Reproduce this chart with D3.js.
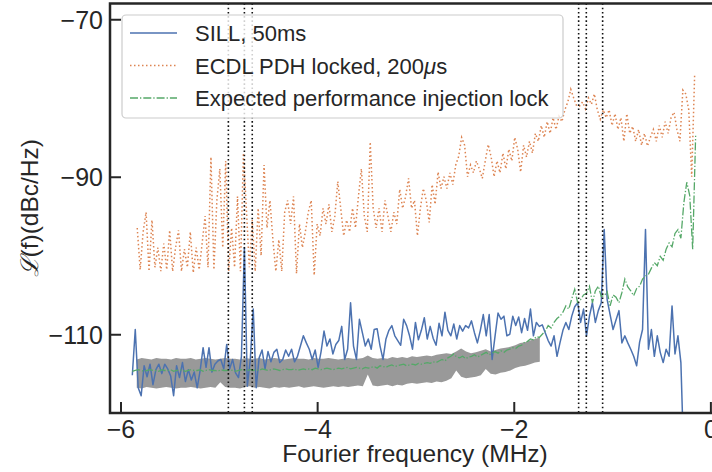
<!DOCTYPE html>
<html>
<head>
<meta charset="utf-8">
<script src="https://cdn.jsdelivr.net/npm/d3@7"></script>
<style>
html,body{margin:0;padding:0;background:#fff;}
svg{display:block;font-family:"Liberation Sans",Arial,"DejaVu Sans",sans-serif;}
</style>
</head>
<body>
<svg id="chart" width="712" height="472"></svg>
<script>
// ---------------- data ----------------
const xTicks = [-6, -4, -2, 0];
const yTicks = [-110, -90, -70];
const xTickLabels = ["\u22126", "\u22124", "\u22122", "0"];
const yTickLabels = ["\u2212110", "\u221290", "\u221270"];
const seriesNames = ["SILL, 50ms", "ECDL PDH locked, 200\u03bcs", "Expected performance injection lock"];
const markerFreqs = [-4.903, -4.74, -4.66, -1.34, -1.262, -1.096];

// SILL (blue), frequency grid: start -5.88 MHz, step 0.03 MHz
const sillStart = -5.88, sillStep = 0.03;
const sill = [
-115.2,-109.4,-116.8,-117.8,-114,-115.4,-113.8,-116.4,-114.5,-113.8,
-115,-113.8,-114.4,-115.3,-117.8,-114,-115.5,-113.6,-116,-114.5,
-115.8,-114.8,-116.8,-114.6,-111.7,-114.2,-111.7,-114.8,-113.8,-113.4,
-113.2,-114.4,-111.3,-114.4,-113.2,-114.9,-115.5,-112.8,-99,-116.6,
-113.2,-106.8,-116.8,-113,-112,-114.4,-112.2,-113.5,-112.3,-111.9,
-113.6,-113.2,-112,-112.8,-111.9,-113.5,-112.8,-111.5,-110.2,-111.1,
-111.9,-113.2,-112,-114.2,-112.2,-109.6,-111.5,-110.6,-112.5,-111.3,
-110.8,-109,-113.2,-111.9,-106,-111.5,-113.2,-108.1,-109.8,-111.5,
-110.6,-111.9,-109.4,-109.3,-111.5,-113.2,-110.6,-109.5,-108.9,-110.2,
-110.8,-111.4,-108.1,-108.9,-110.2,-111.9,-108.5,-110.7,-109.5,-107.9,
-110.6,-109,-110.5,-111.4,-108.6,-110.2,-107.2,-109.5,-110.2,-108.7,
-110.6,-108.9,-109.6,-108.9,-109.2,-108.3,-109.8,-111.1,-109.5,-107.5,
-110.2,-107.5,-113.2,-110.2,-107.3,-108.1,-107.7,-110.2,-110,-107.7,
-108.9,-107.8,-109.8,-108,-109.5,-106.8,-110.2,-108.5,-109,-108.8,
-109.8,-110.8,-111.5,-110.2,-112.8,-111.1,-109.5,-108.5,-109.4,-107.7,
-106.5,-106,-108.5,-106.8,-110.2,-107.7,-106,-108.5,-107,-106,
-96.7,-105.6,-107.5,-109.4,-108.2,-107,-111.1,-110.2,-111.1,-111.9,
-112.8,-114,-111,-109.4,-96.7,-111.9,-109.4,-112.8,-110.2,-112.3,
-113.6,-111.9,-112.8,-106.4,-112.5,-110.2,-113.6,-126
];

// ECDL PDH locked (orange), start -5.83 MHz, step 0.03 MHz
const ecdlStart = -5.83, ecdlStep = 0.03;
const ecdl = [
-96.5,-101.8,-97,-94.5,-102,-95.5,-101.5,-99,-102,-98.5,
-101.8,-96.8,-102,-99,-96.8,-102,-99.2,-101.5,-97,-102.2,
-99,-101.8,-98.5,-95,-101.5,-87.5,-101.8,-93,-89,-99,
-88,-102,-96.5,-101.5,-92.5,-102,-87,-94,-101.5,-95.5,
-102,-94,-100,-88.5,-96.5,-93,-98,-102,-98,-102,
-94.5,-93,-96,-92.5,-102.3,-96,-99,-97,-94.5,-93,
-102.5,-96,-97.5,-94,-96,-93.5,-97,-95,-90.6,-94,
-97.5,-95.5,-97,-94,-96.5,-92.5,-89,-95,-97,-85.6,
-94,-96.5,-94,-97,-93,-95,-97,-94.5,-96,-91.6,
-94,-92.5,-90.2,-94,-93,-97.5,-94,-91.5,-93,-95.8,
-91,-93.5,-89.4,-91.5,-90,-91.5,-89.5,-91,-88.5,-87.4,
-85,-86,-90,-88.5,-89.5,-88,-89,-90.2,-88,-85.9,
-87.5,-90,-88,-89.5,-87,-89,-86.5,-88,-85,-86.5,
-89.4,-86,-87.5,-85.5,-87,-84.5,-85.5,-83.5,-85,-83,
-84.5,-82.5,-84,-82.3,-83,-81.5,-80.5,-78.9,-80,-81,
-81,-80.5,-81.4,-80,-80.8,-79.5,-81.5,-82.7,-81.5,-82.5,
-81.5,-83.5,-82,-84,-82.5,-85.5,-82,-84.5,-83.6,-85.5,
-84,-86,-84.5,-86.1,-85,-84,-85.5,-83.5,-85,-83,
-84.5,-82.5,-81.8,-84,-85.5,-79,-79.5,-81.5,-90,-77
];

// Expected performance (green), start -5.88 MHz, step 0.03 MHz
const expStart = -5.88, expStep = 0.03;
const expected = [
-114.7,-114.6,-114.5,-114.6,-114.7,-114.6,-114.5,-114.6,-114.6,-114.7,
-114.5,-114.6,-114.6,-114.5,-114.7,-114.6,-114.5,-114.6,-114.7,-114.6,
-114.5,-114.6,-114.6,-114.5,-114.7,-114.6,-114.5,-114.6,-114.6,-114.7,
-114.5,-114.6,-114.6,-114.5,-114.6,-114.7,-114.6,-114.5,-114.6,-114.6,
-114.5,-114.6,-114.5,-114.6,-114.4,-114.5,-114.6,-114.5,-114.4,-114.5,
-114.6,-114.5,-114.4,-114.5,-114.5,-114.4,-114.6,-114.5,-114.4,-114.5,
-114.4,-114.5,-114.3,-114.4,-114.5,-114.4,-114.3,-114.4,-114.5,-114.4,
-114.3,-114.4,-114.3,-114.2,-114.4,-114.3,-114.2,-114.3,-114.4,-114.2,
-114.3,-114.2,-114.1,-114.3,-114.0,-114.1,-114.2,-114.0,-113.9,-114.1,
-114.0,-113.9,-113.8,-114.0,-113.9,-113.8,-113.9,-113.7,-113.8,-113.7,
-113.6,-113.7,-113.5,-113.6,-113.4,-113.2,-113.4,-113.0,-112.8,-112.5,
-112.9,-113.0,-112.8,-113.1,-112.9,-112.8,-112.6,-112.9,-112.7,-112.5,
-112.3,-112.6,-112.4,-112.2,-112.4,-112.1,-112.3,-112.0,-111.9,-111.7,
-111.8,-111.5,-111.4,-111.0,-110.9,-110.6,-110.7,-110.3,-110.4,-110.0,
-109.6,-108.9,-109.2,-108.5,-108.0,-107.7,-107.2,-106.4,-106.8,-105.5,
-104.3,-106.0,-105.6,-105.0,-104.8,-103.9,-106.0,-104.5,-103.9,-105.2,
-105.1,-104.6,-106.4,-105.0,-105.3,-106.0,-104.7,-103.0,-104.0,-104.5,
-105.1,-104.2,-103.9,-103.0,-102.6,-102.4,-101.6,-100.9,-101.3,-100.1,
-100.6,-99.2,-98.4,-98.9,-97.2,-96.7,-97.8,-93.3,-90.7,-92.4,
-99.2,-84.8
];

// Gray band (spread), start -5.835 MHz, step 0.05 MHz
const bandStart = -5.835, bandStep = 0.05;
const bandUpper = [
-113.2,-113.0,-113.1,-113.2,-113.0,-113.1,-113.1,-113.2,-113.0,-113.1,
-113.1,-113.0,-113.2,-113.1,-113.0,-113.1,-113.2,-113.1,-113.0,-113.1,
-113.1,-113.2,-113.0,-113.1,-113.1,-113.0,-113.2,-113.1,-113.0,-113.1,
-113.2,-113.1,-113.0,-113.1,-113.1,-113.2,-113.0,-113.1,-113.1,-113.0,
-113.1,-113.2,-113.1,-113.0,-113.1,-113.1,-113.0,-112.7,-113.0,-113.1,
-113.0,-113.1,-112.9,-113.0,-112.9,-113.0,-112.8,-112.9,-112.8,-112.7,
-112.8,-112.6,-112.5,-112.4,-112.5,-112.2,-111.8,-112.2,-112.4,-112.3,
-112.1,-111.9,-112.2,-112.0,-111.8,-111.7,-111.6,-111.4,-111.1,-111.0,
-110.8,-110.6,-110.4
];
const bandLower = [
-116.8,-116.9,-116.7,-116.8,-116.9,-116.8,-116.7,-116.8,-116.9,-116.8,
-116.8,-116.7,-116.8,-116.9,-116.8,-116.7,-116.8,-116.1,-116.7,-116.8,
-116.8,-116.9,-116.7,-116.6,-116.8,-116.7,-116.8,-116.9,-116.7,-116.8,
-116.7,-116.8,-116.7,-116.6,-116.8,-116.7,-116.6,-116.7,-116.8,-116.7,
-116.6,-116.7,-116.6,-116.7,-116.6,-116.5,-116.6,-115.1,-116.5,-116.6,
-116.5,-116.4,-116.6,-116.4,-116.5,-116.3,-116.2,-116.3,-116.2,-116.1,
-116.2,-116.0,-116.1,-115.9,-115.6,-114.6,-115.4,-115.6,-115.5,-115.4,
-115.2,-114.4,-115.0,-115.1,-114.9,-114.8,-114.6,-114.3,-114.1,-114.0,
-113.8,-113.6,-113.5
];

// ---------------- drawing ----------------
const svg = d3.select("#chart");
const W = 712, H = 472;
const plot = {left: 110, right: 720.9, top: 3.5, bottom: 413};
const x = d3.scaleLinear().domain([-6.107, 0.107]).range([plot.left, plot.right]);
const y = d3.scaleLinear().domain([-120, -68]).range([plot.bottom, plot.top]);

const colors = {sill: "#4c72b0", ecdl: "#dd8452", exp: "#55a868", band: "#999999"};

svg.append("defs").append("clipPath").attr("id", "clip")
  .append("rect").attr("x", plot.left).attr("y", plot.top)
  .attr("width", plot.right - plot.left).attr("height", plot.bottom - plot.top);

const g = svg.append("g").attr("clip-path", "url(#clip)");

const toPts = (vals, start, step) => vals.map((v, i) => [start + i * step, v]);

// band
const bandPts = bandUpper.map((u, i) => ({f: bandStart + i * bandStep, u: u, l: bandLower[i]}));
g.append("path").datum(bandPts)
  .attr("fill", colors.band).attr("stroke", "none")
  .attr("d", d3.area().x(d => x(d.f)).y0(d => y(d.l)).y1(d => y(d.u)));

const line = d3.line().x(d => x(d[0])).y(d => y(d[1]));

g.append("path").datum(toPts(sill, sillStart, sillStep))
  .attr("fill", "none").attr("stroke", colors.sill).attr("stroke-width", 1.5)
  .attr("stroke-linejoin", "round").attr("d", line);

g.append("path").datum(toPts(ecdl, ecdlStart, ecdlStep))
  .attr("fill", "none").attr("stroke", colors.ecdl).attr("stroke-width", 1.5)
  .attr("stroke-dasharray", "1.5,2.5").attr("d", line);

g.append("path").datum(toPts(expected, expStart, expStep))
  .attr("fill", "none").attr("stroke", colors.exp).attr("stroke-width", 1.3)
  .attr("stroke-dasharray", "8,2,1.3,2").attr("d", line);

// vertical marker lines
g.selectAll("line.marker").data(markerFreqs).enter().append("line")
  .attr("class", "marker")
  .attr("x1", d => x(d)).attr("x2", d => x(d))
  .attr("y1", plot.top).attr("y2", plot.bottom)
  .attr("stroke", "#111").attr("stroke-width", 1.6)
  .attr("stroke-dasharray", "1.6,2.6");

// axes (ticks pointing inward)
const axisColor = "#262626";
const xAxis = d3.axisBottom(x).tickValues(xTicks).tickFormat((d, i) => xTickLabels[i])
  .tickSizeInner(-11).tickSizeOuter(0).tickPadding(18);
const yAxis = d3.axisLeft(y).tickValues(yTicks).tickFormat((d, i) => yTickLabels[i])
  .tickSizeInner(-11).tickSizeOuter(0).tickPadding(18);

const gx = svg.append("g").attr("transform", `translate(0,${plot.bottom})`).call(xAxis);
const gy = svg.append("g").attr("transform", `translate(${plot.left},0)`).call(yAxis);
[gx, gy].forEach(a => {
  a.select(".domain").remove();
  a.selectAll(".tick line").attr("stroke", axisColor).attr("stroke-width", 2);
  a.selectAll(".tick text").attr("fill", axisColor)
    .style("font-size", "25px").style("font-family", '"Liberation Sans", Arial, sans-serif');
});
gx.selectAll(".tick text").attr("dy", "0.71em").attr("y", 7);
gy.selectAll(".tick text").attr("x", -7).attr("dy", "0.35em");

// spines
svg.append("rect").attr("x", plot.left).attr("y", plot.top)
  .attr("width", plot.right - plot.left).attr("height", plot.bottom - plot.top)
  .attr("fill", "none").attr("stroke", axisColor).attr("stroke-width", 2.5);

// axis labels
svg.append("text").attr("x", (plot.left + 710) / 2 + 5).attr("y", 462)
  .attr("text-anchor", "middle").attr("fill", axisColor)
  .style("font-size", "24.5px").text("Fourier frequency (MHz)");

const yl = svg.append("text")
  .attr("transform", `translate(38,${(plot.top + plot.bottom) / 2}) rotate(-90)`)
  .attr("text-anchor", "middle").attr("fill", axisColor)
  .style("font-size", "24.5px");
yl.append("tspan").style("font-family", '"DejaVu Serif", serif').style("font-style", "italic").text("\u2112");
yl.append("tspan").text("(f)(dBc/Hz)");

// legend
const lg = svg.append("g");
lg.append("rect").attr("x", 122).attr("y", 15).attr("width", 441).attr("height", 103)
  .attr("rx", 4).attr("ry", 4)
  .attr("fill", "#fff").attr("fill-opacity", 0.8)
  .attr("stroke", "#cccccc").attr("stroke-width", 1.2);
const legendRows = [
  {name: seriesNames[0], color: colors.sill, dash: null, w: 1.5},
  {name: seriesNames[1], color: colors.ecdl, dash: "1.5,2.5", w: 1.5},
  {name: seriesNames[2], color: colors.exp, dash: "8,2,1.3,2", w: 1.3}
];
legendRows.forEach((r, i) => {
  const cy = 33 + i * 32.5;
  const ln = lg.append("line").attr("x1", 130).attr("x2", 177).attr("y1", cy).attr("y2", cy)
    .attr("stroke", r.color).attr("stroke-width", r.w);
  if (r.dash) ln.attr("stroke-dasharray", r.dash);
  const t = lg.append("text").attr("x", 195).attr("y", cy + 8).attr("fill", axisColor)
    .style("font-size", "22px");
  if (i === 1) {
    t.append("tspan").text("ECDL PDH locked, 200");
    t.append("tspan").style("font-style", "italic").text("\u03bc");
    t.append("tspan").text("s");
  } else {
    t.text(r.name);
  }
});
</script>
</body>
</html>
